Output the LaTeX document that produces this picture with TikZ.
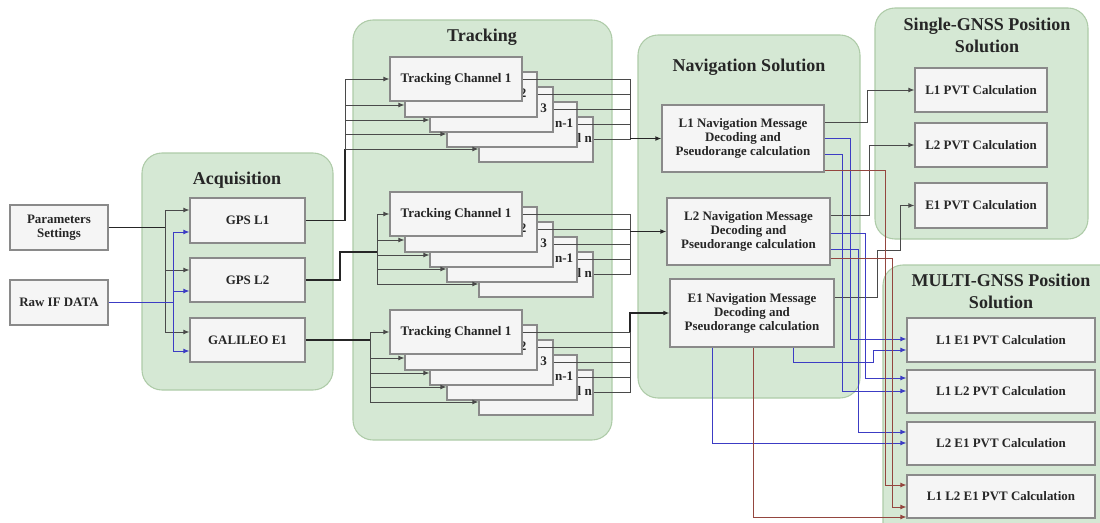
\documentclass[tikz,border=0pt]{standalone}
\usepackage{fontspec}
\setmainfont{Liberation Serif}
\usetikzlibrary{arrows.meta}
\definecolor{contfill}{HTML}{D5E8D4}
\definecolor{contdraw}{HTML}{AECBA8}
\definecolor{boxfill}{HTML}{F5F5F5}
\definecolor{boxdraw}{HTML}{8A8A8A}
\definecolor{wblue}{HTML}{3C3CC4}
\definecolor{wbrown}{HTML}{94463F}
\definecolor{wgray}{HTML}{4A4A4A}
\definecolor{txt}{HTML}{262626}
\begin{document}
\begin{tikzpicture}[x=0.75pt,y=-0.75pt,
  rect/.style n args={4}{minimum width={((#3)-(#1))*0.75pt}, minimum height={((#4)-(#2))*0.75pt},
    at={({((#1)+(#3))/2},{((#2)+(#4))/2})}},
  cont/.style={draw=contdraw, fill=contfill, line width=0.8pt, rounded corners=15pt, inner sep=0pt},
  box/.style={draw=boxdraw, fill=boxfill, line width=0.9pt, inner sep=0pt, text=txt, align=center,
    font=\fontsize{9.7}{10.5}\selectfont\bfseries},
  tbox/.style={box, font=\fontsize{9.8}{11}\selectfont\bfseries},
  ttl/.style={font=\fontsize{13.5}{15}\selectfont\bfseries, text=txt, align=center},
  arr/.style={-{Latex[length=4.5pt,width=3.6pt]}},
  thinl/.style={draw=wgray, line width=0.6pt},
  thickl/.style={draw=black!85, line width=1.3pt},
  bline/.style={draw=wblue, line width=0.6pt},
  rline/.style={draw=wbrown, line width=0.6pt},
  gline/.style={draw=wgray, line width=0.6pt}]
\useasboundingbox (0,0) rectangle (1100,522);
\clip (0,0) rectangle (1100,522);

% containers
\node[cont, rect={142}{153}{333}{390}] (cacq) {};
\node[cont, rect={353}{20}{612}{440}] (ctrk) {};
\node[cont, rect={638}{35}{860}{398}] (cnav) {};
\node[cont, rect={875}{8}{1088}{239}] (csgl) {};
\node[cont, rect={883}{265}{1125}{545}] (cmul) {};

\node[ttl] (tacq) at (237,180) {Acquisition};
\node[ttl] (ttrk) at (482,37) {Tracking};
\node[ttl] (tnav) at (749,67) {Navigation Solution};
\node[ttl, font=\fontsize{13.5}{16.5}\selectfont\bfseries] (tsgl) at (987,35) {Single-GNSS Position\\Solution};
\node[ttl, font=\fontsize{13.5}{16.5}\selectfont\bfseries] (tmul) at (1001,291) {MULTI-GNSS Position\\Solution};

% inputs
\node[box, rect={10}{205}{108}{250}] (par) {Parameters\\Settings};
\node[box, rect={10}{280}{108}{325}] (raw) {Raw IF DATA};

% acquisition
\node[box, rect={190}{198}{305}{243}] (g1) {GPS L1};
\node[box, rect={190}{258}{305}{302}] (g2) {GPS L2};
\node[box, rect={190}{318}{305}{362}] (g3) {GALILEO E1};

% tracking stacks
\foreach \t/\nm in {57/a,192/b,310/c}{
  \node[tbox, rect={479}{\t+60}{593}{\t+105}] (\nm5) {Tracking Channel n};
  \node[tbox, rect={447}{\t+45}{577}{\t+90}] (\nm4) {Tracking Channel n-1};
  \node[tbox, rect={430}{\t+30}{553}{\t+75}] (\nm3) {Tracking Channel 3};
  \node[tbox, rect={405}{\t+15}{537}{\t+60}] (\nm2) {Tracking Channel 2};
  \node[tbox, rect={390}{\t}{522}{\t+44}] (\nm1) {Tracking Channel 1};
}

% navigation
\node[box, rect={662}{105}{824}{172}] (n1) {L1 Navigation Message\\Decoding and\\Pseudorange calculation};
\node[box, rect={667}{198}{830}{265}] (n2) {L2 Navigation Message\\Decoding and\\Pseudorange calculation};
\node[box, rect={670}{279}{834}{347}] (n3) {E1 Navigation Message\\Decoding and\\Pseudorange calculation};

% single GNSS
\node[box, rect={915}{68}{1047}{112}] (p1) {L1 PVT Calculation};
\node[box, rect={915}{123}{1047}{167}] (p2) {L2 PVT Calculation};
\node[box, rect={915}{183}{1047}{228}] (p3) {E1 PVT Calculation};

% multi GNSS
\node[box, rect={907}{318}{1095}{362}] (m1) {L1 E1 PVT Calculation};
\node[box, rect={907}{370}{1095}{413}] (m2) {L1 L2 PVT Calculation};
\node[box, rect={907}{422}{1095}{465}] (m3) {L2 E1 PVT Calculation};
\node[box, rect={907}{475}{1095}{518}] (m4) {L1 L2 E1 PVT Calculation};

% acquisition inputs
\draw[thickl] (par.east) -- (par.east -| 165,0);
\draw[thinl] (165,210) -- (165,332);
\draw[thinl,arr] (165,210) -- (g1.west |- 0,210);
\draw[thinl,arr] (165,270) -- (g2.west |- 0,270);
\draw[thinl,arr] (165,332) -- (g3.west |- 0,332);
\draw[bline, line width=1.2pt] (raw.east) -- (raw.east -| 173,0);
\draw[bline] (173,232) -- (173,351);
\draw[bline,arr] (173,232) -- (g1.west |- 0,232);
\draw[bline,arr] (173,291) -- (g2.west |- 0,291);
\draw[bline,arr] (173,351) -- (g3.west |- 0,351);

% acquisition -> tracking
\draw[thickl] (g1.east) -| (345,149);
\draw[thickl] (g2.east) -| (340,252) -- (377,252);
\draw[thickl] (g3.east) -- (g3.east -| 370,0);

\foreach \t/\nm/\bx in {57/a/345,192/b/377,310/c/370}{
  \pgfmathsetmacro\ya{\t+22}
  \pgfmathsetmacro\yb{\t+48}
  \pgfmathsetmacro\yc{\t+63}
  \pgfmathsetmacro\yd{\t+77}
  \pgfmathsetmacro\ye{\t+92}
  \draw[thinl] (\bx,\ya) -- (\bx,\ye);
  \draw[thinl,arr] (\bx,\ya) -- (\nm1.west |- 0,\ya);
  \draw[thinl,arr] (\bx,\yb) -- (\nm2.west |- 0,\yb);
  \draw[thinl,arr] (\bx,\yc) -- (\nm3.west |- 0,\yc);
  \draw[thinl,arr] (\bx,\yd) -- (\nm4.west |- 0,\yd);
  \draw[thinl,arr] (\bx,\ye) -- (\nm5.west |- 0,\ye);
  \foreach \k in {1,...,5}{
    \draw[thinl] (\nm\k.east) -- (\nm\k.east -| 630,0);
  }
  \draw[thinl] (\nm1.east -| 630,0) -- (\nm5.east -| 630,0);
}

% tracking -> navigation
\draw[thickl,arr] (n1.west -| 630,0) -- (n1.west);
\draw[thickl,arr] (n2.west -| 630,0) -- (n2.west);
\draw[thickl,arr] (c1.east -| 630,0) |- (n3.west);

% navigation -> single GNSS
\draw[gline,arr] (n1.east |- 0,122) -- (867,122) |- (p1.west);
\draw[gline,arr] (n2.east |- 0,215) -- (869,215) |- (p2.west);
\draw[gline,arr] (n3.east |- 0,297) -- (877,297) |- (900,250) |- (p3.west);

% navigation -> multi GNSS (blue)
\draw[bline,arr] (n1.east |- 0,138) -- (850,138) |- (m1.west |- 0,339);
\draw[bline,arr] (n1.east |- 0,154) -- (842,154) |- (m2.west |- 0,391);
\draw[bline,arr] (n2.east |- 0,233) -- (865,233) |- (m2.west |- 0,378);
\draw[bline,arr] (n2.east |- 0,249) -- (858,249) |- (m3.west |- 0,432);
\draw[bline,arr] (n3.south -| 793,0) |- (873,362) |- (m1.west |- 0,350);
\draw[bline,arr] (n3.south -| 712,0) |- (m3.west |- 0,443);

% navigation -> multi GNSS (brown)
\draw[rline,arr] (n1.east |- 0,170) -- (885,170) |- (m4.west |- 0,485);
\draw[rline,arr] (n2.east |- 0,258) -- (892,258) |- (m4.west |- 0,507);
\draw[rline,arr] (n3.south -| 753,0) |- (m4.west |- 0,517);
\end{tikzpicture}
\end{document}
